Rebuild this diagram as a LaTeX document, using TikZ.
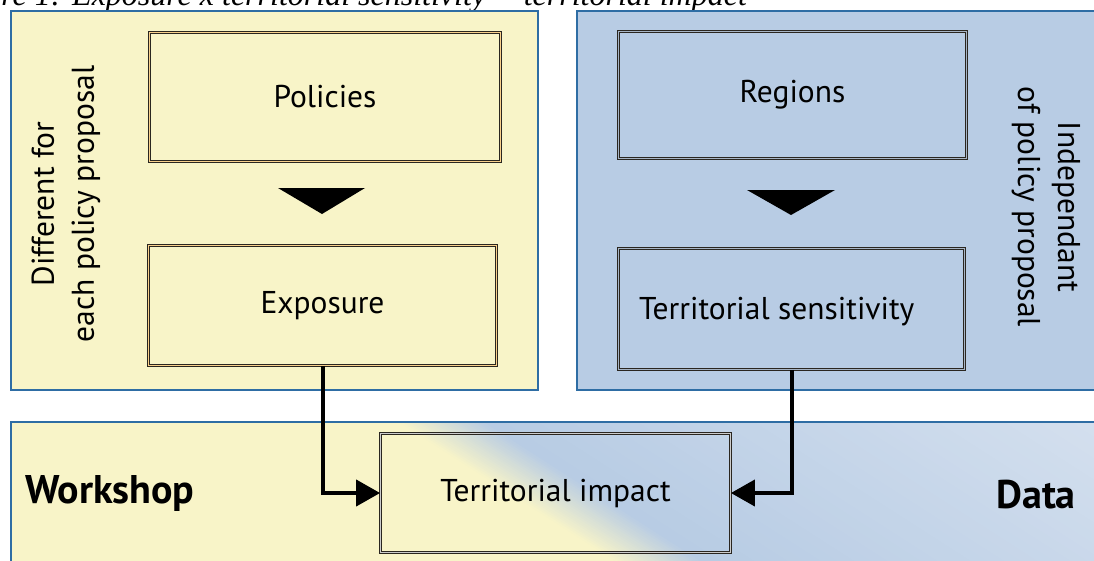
\documentclass[tikz,border=0pt]{standalone}
\usepackage{fontspec}
\setmainfont{PT Sans}
\newfontfamily\titlefont{Liberation Serif}
\usetikzlibrary{arrows.meta}
\definecolor{yel}{HTML}{F8F4C8}
\definecolor{blu}{HTML}{B8CCE4}
\definecolor{blul}{HTML}{D6E1EF}
\definecolor{edge}{HTML}{2E6DA4}
\definecolor{boxline}{HTML}{2A2620}
\begin{document}
\begin{tikzpicture}[x=1pt,y=-1pt,
  panel/.style={draw=edge, line width=1.5pt, inner sep=0pt},
  dbox/.style={draw=boxline, double=#1, double distance=1.3pt, line width=0.8pt, inner sep=0pt,
    font=\fontsize{31.5}{36}\selectfont},
  side/.style={align=center, font=\fontsize{31.5}{40}\selectfont, inner sep=0pt},
  conn/.style={line width=4pt, -{Triangle[length=24pt,width=26pt]}},
  big/.style={font=\bfseries\fontsize{40}{44}\selectfont, inner sep=0pt}
]
\useasboundingbox (0,0) rectangle (1094,560);
\clip (0,0) rectangle (1094,560);

% title (cut off at top)
\node[font=\titlefont\itshape\fontsize{32}{34}\selectfont, anchor=base east, inner sep=0pt] (title) at (747,5)
  {Figure 1: Exposure x territorial sensitivity = territorial impact};

% upper panels
\fill[yel] (11,11) rectangle (538,390);
\draw[panel] (11,11) rectangle (538,390);
\fill[blu] (577,11) rectangle (1100,390);
\draw[panel] (577,11) rectangle (1100,390);

% bottom panel with diagonal gradient
\begin{scope}
  \clip (11,422) rectangle (1100,570);
  \fill[yel] (11,422) rectangle (1100,570);
  \begin{scope}[shift={(552,493)}, rotate=57.3]
    \foreach \i in {0,...,24}{
      \pgfmathtruncatemacro\p{round(\i*100/24)}
      \fill[blu!\p!yel] (-25+2*\i,-1000) rectangle (-25+2*\i+2.6,1000);
    }
    \foreach \i in {0,...,39}{
      \pgfmathtruncatemacro\p{round(\i*100/39)}
      \fill[blul!\p!blu] (25+9*\i,-1000) rectangle (25+9*\i+9.6,1000);
    }
    \fill[blul] (385,-1000) rectangle (1500,1000);
  \end{scope}
\end{scope}
\draw[panel] (1100,422) -- (11,422) -- (11,570);

% boxes
\node[dbox=yel!70!orange, minimum width=351pt, minimum height=129pt] (pol) at (325,97) {Policies};
\node[dbox=yel!70!orange, minimum width=348pt, minimum height=120pt] (expo) at (322.5,305.5) {Exposure};
\node[dbox=blu!70!gray, minimum width=348pt, minimum height=127pt] (reg) at (792.5,95) {Regions};
\node[dbox=blu!70!gray, minimum width=346pt, minimum height=121pt] (sens) at (791.5,309) {};
\node[font=\fontsize{31.5}{36}\selectfont, anchor=west, inner sep=0pt] (senst) at (639,312) {Territorial sensitivity};
\node[dbox=white!60!gray, minimum width=350pt, minimum height=119pt] (impact) at (555.5,493) {Territorial impact};

% triangles
\fill (278,188) -- (365,188) -- (322,214) -- cycle;
\fill (747,190) -- (835,190) -- (791,215) -- cycle;

% connectors
\draw[conn] (expo.south) |- (impact.west);
\draw[conn] (sens.south) |- (impact.east);

% side labels
\node[side, rotate=90] (diff) at (66,204) {Different for\\each policy proposal};
\node[side, rotate=-90] (indep) at (1046,207) {Independant\\of policy proposal};

\node[big, anchor=west] (ws) at (25,493) {Workshop};
\node[big, anchor=east] (data) at (1076,495) {Data};
\end{tikzpicture}
\end{document}
